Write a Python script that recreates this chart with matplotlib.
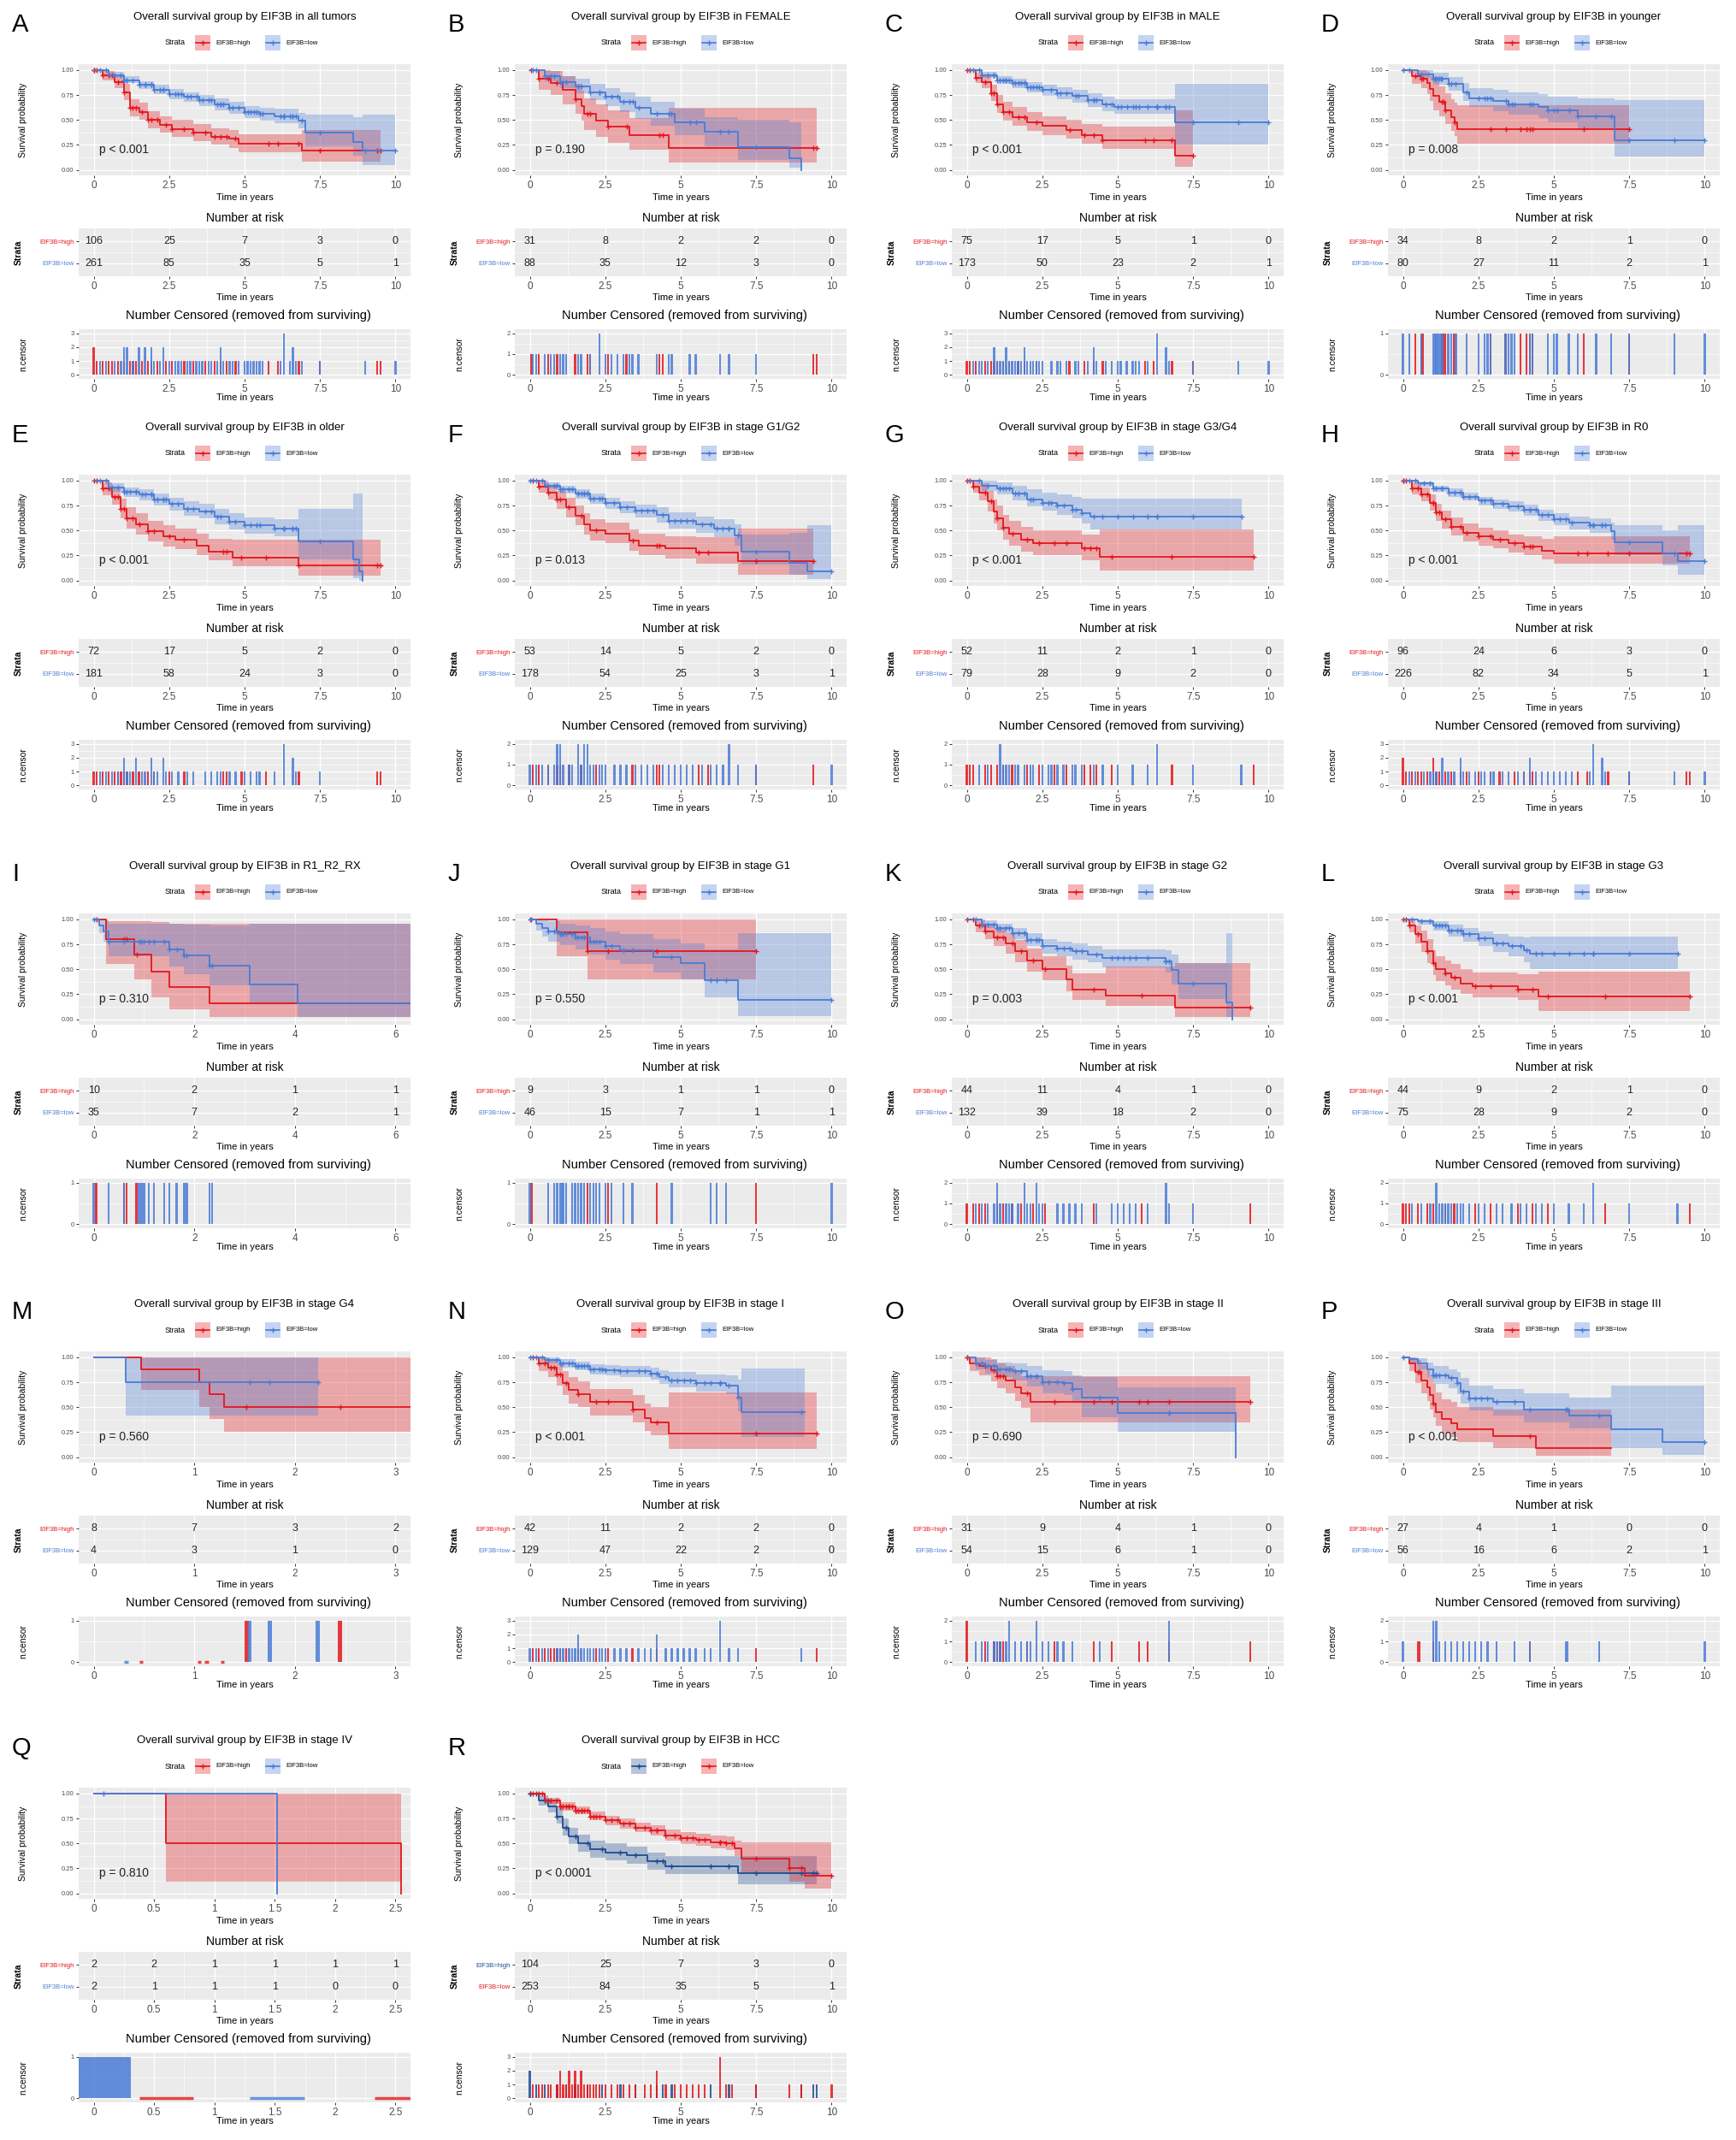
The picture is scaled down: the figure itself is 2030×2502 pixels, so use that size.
import numpy as np
import matplotlib
matplotlib.use("Agg")
import matplotlib.pyplot as plt
from matplotlib.patches import Rectangle
from matplotlib.lines import Line2D

plt.rcParams['font.family'] = ['Liberation Sans', 'DejaVu Sans']

W, H = 2031, 2502
RED = "#E3171D"
BLUE = "#4A7CD6"
NAVY = "#1F4C93"

LETTERS = list("ABCDEFGHIJKLMNOPQR")
SUBSETS = ["all tumors", "FEMALE", "MALE", "younger", "older", "stage G1/G2",
           "stage G3/G4", "R0", "R1_R2_RX", "stage G1", "stage G2", "stage G3",
           "stage G4", "stage I", "stage II", "stage III", "stage IV", "HCC"]
PVALS = ["p < 0.001", "p = 0.190", "p < 0.001", "p = 0.008", "p < 0.001",
         "p = 0.013", "p < 0.001", "p < 0.001", "p = 0.310", "p = 0.550",
         "p = 0.003", "p < 0.001", "p = 0.560", "p < 0.001", "p = 0.690",
         "p < 0.001", "p = 0.810", "p < 0.0001"]
XRANGE = [10] * 8 + [6] + [10] * 3 + [3] + [10] * 3 + [2.5] + [10]
XSTEP = [2.5] * 8 + [2] + [2.5] * 3 + [1] + [2.5] * 3 + [0.5] + [2.5]
BAR_W = [0.065] * 8 + [0.04] + [0.065] * 3 + [0.04] + [0.065] * 3 + [0.45] + [0.065]

RISK_HIGH = [[106, 25, 7, 3, 0], [31, 8, 2, 2, 0], [75, 17, 5, 1, 0], [34, 8, 2, 1, 0],
             [72, 17, 5, 2, 0], [53, 14, 5, 2, 0], [52, 11, 2, 1, 0], [96, 24, 6, 3, 0],
             [10, 2, 1, 1], [9, 3, 1, 1, 0], [44, 11, 4, 1, 0], [44, 9, 2, 1, 0],
             [8, 7, 3, 2], [42, 11, 2, 2, 0], [31, 9, 4, 1, 0], [27, 4, 1, 0, 0],
             [2, 2, 1, 1, 1, 1], [104, 25, 7, 3, 0]]
RISK_LOW = [[261, 85, 35, 5, 1], [88, 35, 12, 3, 0], [173, 50, 23, 2, 1], [80, 27, 11, 2, 1],
            [181, 58, 24, 3, 0], [178, 54, 25, 3, 1], [79, 28, 9, 2, 0], [226, 82, 34, 5, 1],
            [35, 7, 2, 1], [46, 15, 7, 1, 1], [132, 39, 18, 2, 0], [75, 28, 9, 2, 0],
            [4, 3, 1, 0], [129, 47, 22, 2, 0], [54, 15, 6, 1, 0], [56, 16, 6, 2, 1],
            [2, 1, 1, 1, 0, 0], [253, 84, 35, 5, 1]]

# EIF3B-high curves: step times, survival, CI lower / upper, last follow-up
HIGH_T = [
    [0, .3, .7, 1.0, 1.2, 1.5, 1.8, 2.2, 2.6, 3.3, 3.9, 4.5, 4.8, 6.9],
    [0, .3, .7, 1.1, 1.5, 1.7, 1.8, 2.2, 2.6, 3.3, 4.6],
    [0, .3, .5, .8, 1.0, 1.2, 1.5, 2.0, 2.5, 3.3, 3.8, 4.5, 6.9],
    [0, .3, .6, .8, .9, 1.0, 1.2, 1.4, 1.6, 1.7, 1.8],
    [0, .3, .6, .9, 1.1, 1.4, 1.8, 2.3, 2.7, 3.4, 3.8, 4.6, 6.8],
    [0, .3, .6, .9, 1.2, 1.5, 1.8, 2.0, 2.5, 3.3, 3.6, 4.5, 5.5, 6.9],
    [0, .2, .4, .7, .9, 1.0, 1.2, 1.4, 1.8, 2.2, 3.8, 4.4],
    [0, .3, .6, .9, 1.1, 1.3, 1.6, 2.0, 2.5, 3.0, 3.5, 4.0, 4.6, 5.0],
    [0, .25, .8, 1.15, 1.5, 2.3],
    [0, .9, 1.9],
    [0, .3, .6, .9, 1.3, 1.6, 2.0, 2.5, 3.3, 3.5, 4.6, 6.9],
    [0, .2, .4, .6, .8, 1.0, 1.1, 1.4, 1.6, 1.9, 2.3, 3.8, 4.5],
    [0, .47, 1.05, 1.15, 1.3],
    [0, .3, .6, .9, 1.1, 1.3, 1.6, 2.0, 3.4, 3.8, 4.0, 4.6],
    [0, .1, .4, .8, 1.0, 1.3, 1.6, 1.8, 2.1],
    [0, .2, .4, .6, .8, .9, 1.0, 1.1, 1.3, 1.6, 1.8, 3.0, 4.4],
    [0, .6, 2.55],
    [0, .3, .6, .9, 1.1, 1.3, 1.6, 2.0, 2.5, 3.2, 3.9, 4.5, 6.9],
]
HIGH_S = [
    [1, .95, .88, .78, .62, .58, .50, .45, .41, .37, .33, .31, .26, .19],
    [1, .91, .87, .80, .71, .64, .56, .49, .43, .35, .22],
    [1, .92, .88, .77, .66, .58, .53, .48, .44, .40, .35, .30, .14],
    [1, .94, .91, .87, .81, .74, .68, .60, .53, .48, .41],
    [1, .92, .84, .72, .62, .56, .49, .44, .41, .35, .29, .23, .15],
    [1, .94, .88, .81, .73, .65, .56, .50, .47, .40, .35, .32, .28, .19],
    [1, .94, .88, .79, .69, .62, .53, .47, .41, .37, .32, .24],
    [1, .92, .86, .78, .68, .61, .54, .48, .44, .41, .37, .34, .30, .27],
    [1, .80, .65, .48, .32, .16],
    [1, .87, .68],
    [1, .94, .88, .82, .76, .68, .59, .50, .40, .30, .24, .12],
    [1, .94, .85, .78, .68, .56, .50, .46, .42, .36, .33, .30, .23],
    [1, .88, .75, .63, .50],
    [1, .94, .90, .83, .74, .67, .63, .55, .48, .39, .35, .24],
    [1, .94, .91, .87, .81, .77, .70, .64, .55],
    [1, .94, .85, .77, .70, .62, .54, .45, .38, .34, .28, .21, .09],
    [1, .5, 0],
    [1, .93, .87, .77, .66, .57, .50, .44, .41, .38, .32, .27, .20],
]
HIGH_LO = [
    [1, .90, .82, .70, .54, .50, .42, .37, .33, .29, .25, .22, .18, .08],
    [1, .80, .75, .66, .56, .49, .40, .33, .27, .20, .07],
    [1, .87, .82, .69, .57, .49, .44, .39, .35, .31, .26, .21, .03],
    [1, .86, .82, .76, .69, .60, .54, .46, .39, .34, .26],
    [1, .85, .76, .62, .52, .46, .39, .34, .31, .25, .20, .14, .05],
    [1, .88, .81, .72, .63, .55, .46, .40, .37, .30, .25, .22, .17, .06],
    [1, .88, .80, .69, .57, .50, .41, .35, .29, .25, .20, .10],
    [1, .86, .79, .70, .60, .52, .45, .39, .35, .32, .28, .25, .21, .17],
    [1, .55, .40, .22, .10, .02],
    [1, .63, .40],
    [1, .87, .80, .73, .66, .57, .48, .39, .28, .19, .13, .02],
    [1, .87, .76, .67, .56, .44, .38, .34, .30, .25, .22, .19, .08],
    [1, .67, .50, .38, .25],
    [1, .86, .80, .72, .62, .54, .50, .42, .35, .26, .22, .08],
    [1, .86, .82, .76, .69, .64, .56, .49, .35],
    [1, .86, .74, .64, .56, .48, .40, .31, .24, .20, .15, .09, .01],
    [1, .12, 0],
    [1, .88, .81, .70, .58, .49, .42, .36, .33, .30, .24, .19, .09],
]
HIGH_HI = [
    [1, .99, .94, .86, .71, .67, .59, .54, .50, .46, .42, .40, .36, .40],
    [1, 1, .99, .94, .86, .79, .72, .66, .60, .52, .62],
    [1, .97, .94, .85, .75, .68, .63, .58, .54, .50, .46, .43, .60],
    [1, 1, 1, .98, .94, .89, .84, .77, .71, .67, .65],
    [1, .98, .92, .82, .73, .67, .60, .55, .52, .47, .42, .41, .41],
    [1, 1, .95, .90, .83, .75, .67, .61, .58, .51, .47, .44, .43, .52],
    [1, 1, .97, .90, .81, .75, .66, .60, .54, .50, .46, .51],
    [1, .98, .93, .86, .77, .70, .63, .57, .53, .50, .46, .44, .42, .44],
    [1, .98, .98, .97, .96, .96],
    [1, 1, 1],
    [1, 1, .96, .91, .86, .79, .71, .63, .54, .46, .53, .56],
    [1, 1, .94, .89, .80, .69, .63, .59, .55, .50, .47, .45, .48],
    [1, 1, 1, 1, 1],
    [1, 1, .98, .93, .86, .80, .76, .68, .62, .54, .50, .65],
    [1, 1, 1, .98, .94, .91, .86, .81, .81],
    [1, 1, .97, .92, .87, .80, .73, .65, .58, .55, .50, .48, .48],
    [1, 1, 0],
    [1, .98, .93, .85, .75, .66, .59, .53, .50, .47, .41, .37, .37],
]
HIGH_END = [9.5, 9.5, 7.5, 7.5, 9.5, 9.4, 9.5, 9.5, 6.3, 7.5, 9.4, 9.5, 3.15,
            9.5, 9.4, 6.9, 2.55, 9.5]

# EIF3B-low curves
LOW_T = [
    [0, .5, 1.0, 1.5, 2.0, 2.5, 3.0, 3.5, 4.0, 4.5, 5.0, 5.5, 6.0, 6.8, 7.0, 8.6, 8.9],
    [0, .5, 1, 1.5, 2, 2.5, 3, 3.5, 4, 4.8, 5.8, 6.9, 8.6, 9.0],
    [0, .5, 1, 1.5, 2, 2.5, 3, 3.5, 4, 4.5, 4.9, 6.9],
    [0, .5, 1, 1.5, 2, 2.2, 3, 3.5, 4.5, 4.8, 5.8, 7.0],
    [0, .5, 1, 1.5, 2, 2.5, 3, 3.5, 4, 4.5, 5, 6, 6.8, 8.6, 8.8, 8.9],
    [0, .5, 1, 1.5, 2, 2.5, 3, 3.5, 4.2, 4.6, 5.5, 6.1, 6.8, 7.0, 8.6, 9.2],
    [0, .5, 1, 1.5, 2, 2.5, 3, 3.5, 3.8, 4.1],
    [0, .5, 1, 1.5, 2, 2.5, 3, 3.5, 4, 4.5, 5, 5.5, 6.2, 6.9, 7.0, 8.6, 9.1],
    [0, .1, .2, .3, 1.5, 1.8, 2.3, 3.1, 4.05],
    [0, .2, .4, .6, 1.0, 1.5, 2.0, 2.5, 3, 4.1, 5, 5.8, 6.9],
    [0, .5, 1, 1.5, 2, 2.5, 3, 3.5, 4, 4.5, 6.6, 6.8, 7.0, 8.6, 8.8],
    [0, .5, 1, 1.5, 2, 2.5, 3, 3.5, 4, 4.2],
    [0, .32],
    [0, .5, 1, 1.5, 2, 2.5, 3, 4, 4.3, 4.6, 5.5, 6.5, 6.9, 7.0],
    [0, .3, .6, 1.0, 1.5, 2.0, 2.5, 3.2, 3.5, 3.8, 5.0, 8.9],
    [0, .2, .5, .8, 1.0, 1.5, 1.8, 1.9, 2.2, 3.0, 4.0, 5.5, 6.9, 8.6],
    [0, 1.52],
    [0, .5, 1, 1.5, 2, 2.5, 3, 3.5, 4, 4.5, 5, 5.5, 6, 6.5, 6.8, 7.0, 8.6, 9.1],
]
LOW_S = [
    [1, .95, .90, .85, .80, .76, .73, .70, .66, .62, .58, .56, .54, .49, .37, .28, .19],
    [1, .94, .88, .84, .78, .73, .68, .62, .56, .48, .38, .23, .12, 0],
    [1, .95, .90, .87, .83, .80, .77, .74, .70, .66, .63, .48],
    [1, .96, .91, .86, .78, .72, .69, .66, .63, .60, .54, .30],
    [1, .93, .89, .86, .81, .77, .72, .69, .64, .59, .55, .52, .39, .21, .09, 0],
    [1, .95, .91, .87, .82, .78, .73, .70, .66, .60, .56, .52, .45, .29, .18, .09],
    [1, .95, .92, .87, .81, .78, .75, .71, .67, .64],
    [1, .97, .92, .88, .84, .80, .77, .74, .71, .66, .61, .58, .55, .49, .38, .27, .19],
    [1, .94, .88, .78, .70, .64, .54, .35, .16],
    [1, .96, .91, .88, .85, .82, .78, .73, .69, .62, .56, .39, .19],
    [1, .95, .91, .86, .79, .73, .71, .68, .65, .61, .58, .49, .36, .17, 0],
    [1, .98, .94, .89, .85, .81, .76, .73, .69, .66],
    [1, .75],
    [1, .97, .94, .91, .88, .87, .86, .84, .80, .77, .74, .72, .60, .45],
    [1, .94, .91, .88, .86, .81, .75, .74, .68, .60, .44, 0],
    [1, .98, .94, .88, .82, .79, .74, .66, .59, .55, .48, .42, .28, .15],
    [1, 0],
    [1, .93, .87, .83, .77, .73, .70, .66, .63, .58, .55, .54, .51, .50, .45, .35, .25, .18],
]
LOW_LO = [
    [1, .92, .87, .81, .76, .71, .68, .64, .60, .56, .52, .49, .47, .42, .24, .14, .05],
    [1, .89, .82, .77, .70, .64, .58, .51, .44, .35, .24, .10, .02, 0],
    [1, .92, .86, .82, .78, .74, .71, .67, .63, .59, .56, .25],
    [1, .92, .85, .79, .69, .63, .59, .55, .52, .48, .42, .13],
    [1, .89, .84, .80, .75, .70, .65, .62, .56, .51, .47, .44, .21, .02, 0, 0],
    [1, .92, .87, .82, .77, .72, .67, .63, .58, .52, .48, .43, .35, .16, .06, .01],
    [1, .90, .86, .80, .74, .70, .66, .62, .57, .51],
    [1, .94, .89, .84, .80, .75, .72, .69, .65, .60, .55, .51, .48, .41, .25, .15, .06],
    [1, .86, .78, .63, .53, .45, .34, .15, .02],
    [1, .89, .83, .78, .74, .70, .65, .60, .55, .47, .40, .22, .03],
    [1, .91, .86, .80, .73, .66, .63, .60, .57, .52, .47, .35, .20, .02, 0],
    [1, .95, .89, .83, .78, .73, .67, .63, .57, .50],
    [1, .42],
    [1, .94, .90, .87, .83, .82, .80, .78, .73, .70, .66, .63, .46, .20],
    [1, .88, .84, .80, .77, .71, .64, .62, .55, .40, .25, 0],
    [1, .94, .88, .80, .73, .69, .63, .54, .47, .42, .35, .29, .09, .02],
    [1, 0],
    [1, .90, .83, .79, .73, .68, .65, .61, .58, .53, .49, .48, .45, .43, .37, .20, .12, .05],
]
LOW_HI = [
    [1, .98, .94, .89, .85, .81, .78, .75, .72, .68, .64, .62, .61, .57, .55, .53, .55],
    [1, .99, .94, .91, .86, .82, .78, .73, .68, .61, .53, .50, .48, 0],
    [1, .98, .94, .91, .88, .85, .83, .80, .77, .73, .71, .86],
    [1, 1, .97, .93, .87, .82, .80, .78, .76, .73, .72, .70],
    [1, .97, .93, .91, .87, .83, .79, .77, .72, .67, .63, .61, .72, .87, .87, 0],
    [1, .98, .95, .91, .87, .83, .79, .76, .73, .68, .64, .61, .56, .46, .48, .55],
    [1, 1, .98, .95, .91, .88, .86, .84, .82, .82],
    [1, .99, .95, .92, .88, .84, .81, .79, .76, .71, .67, .64, .62, .58, .55, .50, .55],
    [1, 1, 1, .96, .96, .95, .94, .96, .96],
    [1, 1, .99, .98, .96, .94, .91, .88, .85, .80, .76, .70, .86],
    [1, .99, .96, .91, .86, .80, .78, .76, .73, .70, .69, .65, .56, .86, 0],
    [1, 1, .98, .95, .91, .88, .85, .83, .82, .83],
    [1, 1],
    [1, 1, .98, .96, .93, .92, .91, .90, .87, .85, .83, .82, .78, .89],
    [1, 1, .97, .95, .94, .91, .87, .86, .82, .80, .70, 0],
    [1, 1, .99, .95, .91, .88, .85, .79, .72, .68, .64, .60, .72, .72],
    [1, 0],
    [1, .96, .91, .87, .82, .78, .75, .71, .68, .64, .61, .60, .58, .57, .53, .51, .51, .51],
]
LOW_END = [10, 9.0, 10, 10, 8.9, 10, 9.1, 10, 6.3, 10, 8.8, 9.1, 2.23, 9.1, 8.9,
           10, 1.52, 10]

# censoring times (a repeated time = 2 or 3 censored at once)
CENS_HIGH = [
    [0, 0, .1, .3, .5, .6, .8, 1.0, 1.2, 1.3, 1.4, 1.6, 1.8, 1.9, 2.1, 2.4, 2.6, 3.0, 3.3,
     3.7, 4.0, 4.2, 4.4, 4.7, 5.8, 6.1, 6.8, 7.5, 9.4, 9.5],
    [.05, .3, .6, .9, 1.5, 1.9, 2.0, 2.6, 3.2, 4.3, 4.4, 9.4, 9.5],
    [0, .1, .3, .6, .8, .9, 1.0, 1.2, 1.4, 1.7, 1.9, 2.3, 3.4, 3.9, 4.2, 4.5, 5.9, 6.2,
     6.8, 7.5],
    [.4, .6, .65, 1.3, 1.35, 1.4, 1.7, 2.9, 3.4, 3.9, 4.1, 4.2, 4.3, 6.0, 7.5],
    [0, .1, .3, .5, .7, .8, .9, 1.0, 1.1, 1.3, 1.5, 1.8, 2.0, 2.5, 3.0, 4.3, 4.4, 4.9,
     5.7, 6.8, 9.4, 9.5],
    [.1, .3, .6, .9, 1.0, 1.3, 1.7, 2.2, 3.4, 4.2, 4.3, 5.6, 5.9, 7.5, 9.4],
    [0, .1, .2, .6, .8, 1.0, 1.2, 1.5, 2.0, 2.4, 2.9, 3.3, 3.9, 4.1, 4.3, 4.8, 6.8, 9.5],
    [0, 0, .1, .3, .5, .6, .8, 1.0, 1.0, 1.1, 1.2, 1.4, 1.6, 1.9, 2.1, 2.5, 2.9, 3.2,
     3.7, 4.0, 4.2, 4.3, 5.8, 6.1, 6.8, 7.5, 9.4, 9.5],
    [.05, .6, .65, .85],
    [.05, 1.9, 2.6, 4.2, 7.5],
    [0, .2, .4, .6, 1.0, 1.2, 1.5, 1.8, 2.2, 2.6, 4.2, 5.8, 9.4],
    [0, .1, .2, .5, .8, 1.0, 1.4, 1.7, 2.4, 2.9, 3.8, 4.3, 4.8, 6.7, 9.5],
    [1.52, 2.45],
    [.1, .3, .5, .7, .8, .9, 1.0, 1.2, 1.6, 2.2, 2.6, 3.4, 4.2, 7.5, 9.5],
    [0, 0, .6, .9, 1.0, 1.1, 1.2, 2.0, 2.9, 4.2, 4.8, 5.7, 6.0, 6.7, 9.4],
    [.5, .55, 1.0, 4.2],
    [],
    [0, 0, .2, .5, .9, 1.2, 1.5, 1.9, 2.4, 3.0, 3.5, 4.2, 4.4, 4.7, 6.0, 6.6, 7.5, 9.0,
     9.4, 9.5],
]
CENS_LOW = [
    [.2, .4, .7, .9, 1.0, 1.0, 1.1, 1.1, 1.3, 1.5, 1.5, 1.7, 1.7, 1.9, 1.9, 2.0, 2.2, 2.3,
     2.3, 2.5, 2.7, 2.8, 2.9, 3.1, 3.2, 3.4, 3.5, 3.6, 3.8, 3.9, 4.1, 4.2, 4.2, 4.3, 4.5,
     4.6, 4.8, 5.0, 5.1, 5.2, 5.3, 5.4, 5.5, 5.6, 6.2, 6.3, 6.3, 6.3, 6.5, 6.6, 6.6, 6.7,
     6.9, 7.5, 9.0, 10.0],
    [.1, .2, .5, .7, .8, 1.0, 1.1, 1.2, 1.6, 1.7, 2.0, 2.3, 2.3, 2.5, 2.7, 2.9, 3.1, 3.3,
     3.4, 3.6, 4.2, 4.6, 4.7, 5.3, 5.5, 6.3, 6.6, 7.5],
    [.2, .4, .5, .7, .9, .9, 1.0, 1.1, 1.2, 1.3, 1.3, 1.4, 1.5, 1.6, 1.7, 1.8, 1.9, 1.9,
     2.0, 2.1, 2.2, 2.3, 2.4, 2.5, 2.8, 3.0, 3.1, 3.3, 3.6, 3.7, 4.0, 4.2, 4.2, 4.3, 4.6,
     4.8, 5.0, 5.1, 5.3, 5.5, 5.6, 5.7, 6.0, 6.3, 6.3, 6.3, 6.6, 6.6, 6.7, 7.5, 9.0, 10.0],
    [0, .2, .6, 1.0, 1.05, 1.1, 1.15, 1.2, 1.25, 1.3, 1.5, 1.6, 1.75, 2.1, 2.5, 2.7, 2.8,
     2.9, 3.4, 3.5, 3.6, 3.7, 4.2, 4.3, 4.8, 5.0, 5.1, 5.5, 5.8, 6.4, 6.9, 7.5, 9.0, 10.0],
    [.2, .4, .6, .8, 1.0, 1.0, 1.1, 1.2, 1.4, 1.4, 1.6, 1.7, 1.9, 1.9, 2.0, 2.1, 2.3, 2.3,
     2.4, 2.6, 2.8, 3.1, 3.3, 3.7, 3.9, 4.1, 4.2, 4.5, 4.7, 5.0, 5.2, 5.4, 5.5, 6.0, 6.3,
     6.3, 6.3, 6.6, 6.6, 6.7, 7.5],
    [0, .2, .4, .6, .8, .9, .9, 1.0, 1.0, 1.1, 1.3, 1.4, 1.6, 1.6, 1.7, 1.8, 1.8, 1.9,
     1.9, 2.0, 2.1, 2.3, 2.4, 2.5, 2.8, 3.0, 3.2, 3.5, 3.7, 3.9, 4.1, 4.4, 4.6, 4.8, 5.0,
     5.2, 5.4, 5.7, 6.0, 6.2, 6.4, 6.6, 6.6, 6.9, 7.5, 10.0],
    [.4, .7, 1.1, 1.1, 1.2, 1.3, 1.4, 1.6, 1.7, 1.9, 2.1, 2.2, 2.5, 2.7, 2.8, 3.0, 3.2,
     3.5, 3.6, 3.8, 4.2, 4.5, 5.0, 5.5, 6.0, 6.3, 6.3, 7.5, 9.1],
    [.2, .4, .7, .9, 1.0, 1.1, 1.3, 1.3, 1.5, 1.7, 1.9, 1.9, 2.0, 2.2, 2.4, 2.6, 2.7, 2.9,
     3.0, 3.3, 3.5, 3.8, 4.0, 4.2, 4.2, 4.4, 4.6, 4.8, 5.0, 5.2, 5.4, 5.6, 6.2, 6.3, 6.3,
     6.3, 6.6, 6.6, 6.7, 7.5, 9.0, 10.0],
    [0, .3, .6, .9, .95, 1.0, 1.1, 1.2, 1.4, 1.5, 1.65, 1.8, 1.85, 2.3, 2.35],
    [0, .6, .8, .9, 1.0, 1.05, 1.1, 1.2, 1.4, 1.5, 1.6, 1.7, 1.8, 2.0, 2.1, 2.2, 2.3, 2.5,
     2.7, 3.1, 3.4, 4.7, 6.0, 6.2, 6.5, 10.0],
    [.3, .5, .7, .9, 1.0, 1.0, 1.1, 1.3, 1.4, 1.5, 1.7, 1.9, 1.9, 2.0, 2.1, 2.3, 2.3, 2.4,
     2.5, 3.0, 3.2, 3.4, 3.6, 3.8, 4.3, 4.8, 5.0, 5.2, 5.4, 5.6, 6.0, 6.6, 6.6, 6.7, 7.5],
    [.3, .6, .9, 1.1, 1.1, 1.2, 1.3, 1.4, 1.5, 1.6, 1.8, 1.9, 2.0, 2.2, 2.5, 2.7, 3.1,
     3.3, 3.6, 3.9, 4.1, 4.4, 4.6, 5.0, 5.5, 6.0, 6.3, 6.3, 7.5, 9.1],
    [1.55, 1.75, 2.23],
    [0, .2, .4, .6, .9, 1.0, 1.1, 1.3, 1.4, 1.5, 1.6, 1.6, 1.7, 1.8, 1.9, 2.0, 2.1, 2.3,
     2.4, 2.5, 2.8, 3.0, 3.2, 3.6, 3.8, 4.0, 4.2, 4.2, 4.5, 4.7, 4.9, 5.1, 5.3, 5.5, 5.8,
     6.0, 6.3, 6.3, 6.3, 6.6, 6.9, 9.0],
    [.3, .5, .7, .9, 1.0, 1.1, 1.3, 1.4, 1.4, 1.6, 1.8, 2.0, 2.1, 2.3, 2.3, 2.5, 2.7, 3.0,
     3.2, 3.5, 4.4, 6.7, 6.7],
    [0, 1.0, 1.0, 1.1, 1.1, 1.2, 1.4, 1.6, 1.8, 2.0, 2.2, 2.4, 2.6, 2.8, 3.1, 3.7, 4.2,
     5.4, 5.45, 6.5, 10.0],
    [.08],
    [.1, .3, .4, .6, .7, .9, 1.0, 1.0, 1.1, 1.2, 1.3, 1.3, 1.4, 1.5, 1.5, 1.6, 1.7, 1.7,
     1.8, 1.9, 2.0, 2.1, 2.2, 2.3, 2.5, 2.7, 2.9, 3.1, 3.3, 3.5, 3.8, 4.0, 4.2, 4.2, 4.5,
     4.8, 5.0, 5.2, 5.4, 5.6, 5.8, 6.3, 6.3, 6.3, 6.5, 6.7, 7.5, 8.6, 9.0, 10.0],
]
# event times shown as zero-height bars in the censor panel
ZERO_HIGH = [[]] * 12 + [[.47, 1.05, 1.12, 1.28]] + [[]] * 3 + [[.6, 2.55]] + [[]]
ZERO_LOW = [[]] * 12 + [[.32]] + [[]] * 3 + [[1.52]] + [[]]

COL_X = [0, 510, 1021, 1531]
ROW_Y = [0, 480, 993, 1505, 2015]


def fx(x):
    return x / W


def fy(y):
    return 1 - y / H


def box(x0, y0, left, top, right, bottom):
    return [fx(x0 + left), fy(y0 + bottom), (right - left) / W, (bottom - top) / H]


def ggstyle(ax, xr, step):
    ax.set_facecolor("#EBEBEB")
    for sp in ax.spines.values():
        sp.set_visible(False)
    ax.set_xlim(-0.05 * xr, 1.05 * xr)
    ticks = np.arange(0, xr + 1e-9, step)
    ax.set_xticks(ticks)
    ax.set_xticklabels(["%g" % t for t in ticks], fontsize=8.5, color="#4D4D4D")
    ax.set_xticks(ticks[:-1] + step / 2, minor=True)
    ax.tick_params(which="major", length=2.5, width=0.7, color="#333333", pad=1.5)
    ax.tick_params(which="minor", length=0)
    ax.grid(which="major", color="white", lw=0.9)
    ax.grid(which="minor", color="white", lw=0.45)
    ax.set_axisbelow(True)


def km_curve(ax, T, S, LO, HI, end, color, cens):
    x = T + [end]
    ax.fill_between(x, LO + [LO[-1]], HI + [HI[-1]], step="post", color=color,
                    alpha=0.32, lw=0)
    ax.step(x, S + [S[-1]], where="post", color=color, lw=1.3)
    cs = [c for c in cens if c <= end]
    ys = [S[np.searchsorted(T, c, side="right") - 1] for c in cs]
    ax.plot(cs, ys, "+", color=color, ms=4.5, mew=1.0, ls="none")


def legend(x0, y0, colors):
    fig.text(fx(x0 + 205), fy(y0 + 50), "Strata", ha="center", va="center",
             fontsize=6.5)
    for k, (c, lab) in enumerate(zip(colors, ["EIF3B=high", "EIF3B=low"])):
        kx = x0 + 228 + k * 82
        fig.add_artist(Rectangle((fx(kx), fy(y0 + 59)), 18 / W, 18 / H,
                                 transform=fig.transFigure, facecolor=c,
                                 alpha=0.32, lw=0))
        fig.add_artist(Line2D([fx(kx + 1), fx(kx + 17)], [fy(y0 + 50)] * 2,
                              color=c, lw=1.2, transform=fig.transFigure))
        fig.add_artist(Line2D([fx(kx + 9)], [fy(y0 + 50)], marker="+", ms=4,
                              color=c, transform=fig.transFigure))
        fig.text(fx(kx + 24), fy(y0 + 50), lab, fontsize=5.5, va="center")


def draw_panel(i):
    x0 = COL_X[i % 4]
    y0 = ROW_Y[i // 4]
    xr, step = XRANGE[i], XSTEP[i]
    if LETTERS[i] == "R":
        c_high, c_low = NAVY, RED
    else:
        c_high, c_low = RED, BLUE
    cx = x0 + 286

    fig.text(fx(x0 + 14), fy(y0 + 29), LETTERS[i], fontsize=21, va="center")
    fig.text(fx(cx), fy(y0 + 20), "Overall survival group by EIF3B in " + SUBSETS[i],
             ha="center", va="center", fontsize=9.5)
    legend(x0, y0, [c_high, c_low])

    # survival curves
    ax = fig.add_axes(box(x0, y0, 92, 75, 480, 205))
    ggstyle(ax, xr, step)
    ax.set_ylim(-0.055, 1.06)
    ax.set_yticks([0, .25, .5, .75, 1])
    ax.set_yticklabels(["0.00", "0.25", "0.50", "0.75", "1.00"], fontsize=5.5,
                       color="#4D4D4D")
    ax.set_yticks([.125, .375, .625, .875], minor=True)
    km_curve(ax, HIGH_T[i], HIGH_S[i], HIGH_LO[i], HIGH_HI[i], HIGH_END[i], c_high,
             CENS_HIGH[i])
    km_curve(ax, LOW_T[i], LOW_S[i], LOW_LO[i], LOW_HI[i], LOW_END[i], c_low,
             CENS_LOW[i])
    ax.text(0.018 * xr, 0.2, PVALS[i], fontsize=10, va="center", ha="left",
            color="#222222")
    fig.text(fx(x0 + 27), fy(y0 + 140), "Survival probability", rotation=90,
             ha="center", va="center", fontsize=7.5)
    fig.text(fx(cx), fy(y0 + 231), "Time in years", ha="center", va="center",
             fontsize=8)

    # risk table
    fig.text(fx(cx), fy(y0 + 255), "Number at risk", ha="center", va="center",
             fontsize=10)
    ar = fig.add_axes(box(x0, y0, 92, 267, 480, 323))
    ggstyle(ar, xr, step)
    ar.set_ylim(0.4, 2.6)
    ar.set_yticks([2, 1])
    ar.set_yticklabels(["EIF3B=high", "EIF3B=low"], fontsize=5.5)
    ar.get_yticklabels()[0].set_color(c_high)
    ar.get_yticklabels()[1].set_color(c_low)
    ar.set_yticks([1.5], minor=True)
    ticks = np.arange(0, xr + 1e-9, step)
    for t, n in zip(ticks, RISK_HIGH[i]):
        ar.text(t, 2, str(n), ha="center", va="center", fontsize=9, color="#222222")
    for t, n in zip(ticks, RISK_LOW[i]):
        ar.text(t, 1, str(n), ha="center", va="center", fontsize=9, color="#222222")
    fig.text(fx(x0 + 22), fy(y0 + 295), "Strata", rotation=90, ha="center",
             va="center", fontsize=7.5, fontweight="bold")
    fig.text(fx(cx), fy(y0 + 348), "Time in years", ha="center", va="center",
             fontsize=8)

    # censored counts
    fig.text(fx(x0 + 290), fy(y0 + 369), "Number Censored (removed from surviving)",
             ha="center", va="center", fontsize=10.5)
    ac = fig.add_axes(box(x0, y0, 92, 385, 480, 443))
    ggstyle(ac, xr, step)
    top = 1
    bw = BAR_W[i]
    for cens, zeros, col in [(CENS_HIGH[i], ZERO_HIGH[i], c_high),
                             (CENS_LOW[i], ZERO_LOW[i], c_low)]:
        if len(cens):
            u, n = np.unique(cens, return_counts=True)
            ac.bar(u, n, width=bw, color=col, alpha=0.85, lw=0)
            top = max(top, n.max())
        if len(zeros):
            ac.hlines([0] * len(zeros), np.array(zeros) - bw / 2,
                      np.array(zeros) + bw / 2, color=col, lw=2.5, alpha=0.8)
    ac.set_ylim(-0.1 * top, 1.1 * top)
    ac.set_yticks(range(top + 1))
    ac.set_yticklabels([str(v) for v in range(top + 1)], fontsize=5.5, color="#4D4D4D")
    ac.set_yticks(np.arange(top) + 0.5, minor=True)
    fig.text(fx(x0 + 27), fy(y0 + 414), "n.censor", rotation=90, ha="center",
             va="center", fontsize=7.5)
    fig.text(fx(cx), fy(y0 + 465), "Time in years", ha="center", va="center",
             fontsize=8)


fig = plt.figure(figsize=(W / 100, H / 100), dpi=100)
fig.patch.set_facecolor("white")
for i in range(len(LETTERS)):
    draw_panel(i)

fig.savefig("out.png", dpi=100)
